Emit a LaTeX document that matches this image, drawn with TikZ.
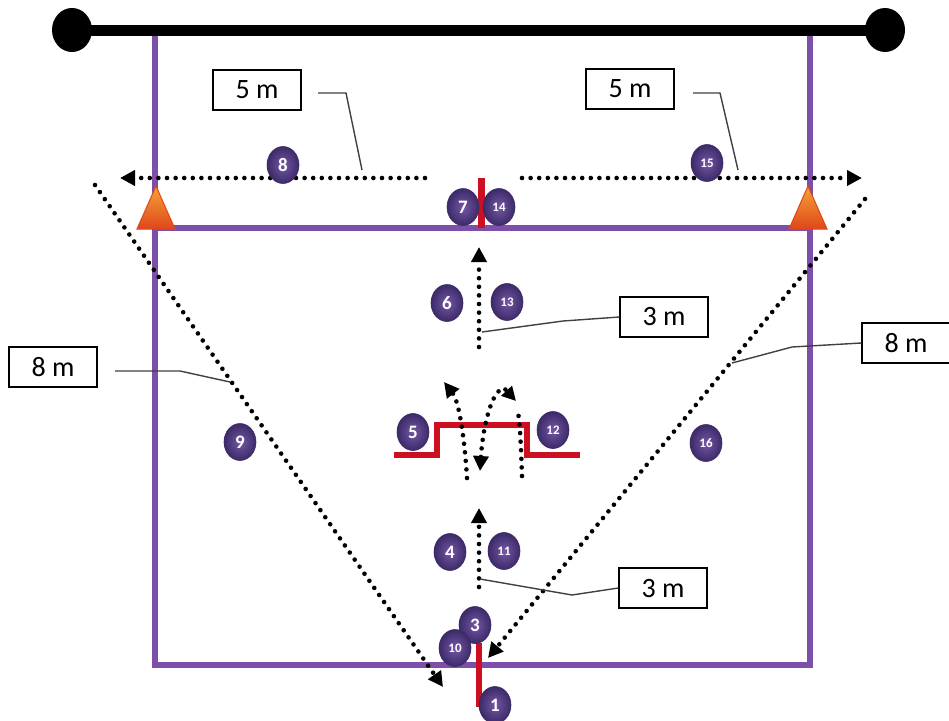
\documentclass[tikz,border=0pt]{standalone}
\usepackage{fontspec}
\setmainfont{Carlito}
\usetikzlibrary{shapes.geometric,arrows.meta}
\definecolor{court}{HTML}{7D4FA8}
\definecolor{postred}{HTML}{CC1022}
\definecolor{ballin}{HTML}{7458A6}
\definecolor{ballout}{HTML}{3C2A68}
\definecolor{conetop}{HTML}{F5A436}
\definecolor{conebot}{HTML}{E0461A}
\definecolor{leader}{HTML}{404040}
\tikzset{
  ball/.style={ellipse, minimum width=32pt, minimum height=37pt, inner sep=0pt,
    inner color=ballin, outer color=ballout, draw=ballout, line width=0.6pt,
    text=white, font=\bfseries\fontsize{19}{19}\selectfont},
  smallball/.style={ball, font=\bfseries\fontsize{13}{13}\selectfont},
  lbl/.style={draw=black, line width=1.4pt, fill=white, minimum width=88pt, minimum height=40pt,
    inner sep=0pt, font=\fontsize{28}{28}\selectfont},
  dots/.style={line width=4.6pt, dash pattern=on 0pt off 8.6pt, line cap=round},
  tip/.style={-{Triangle[length=15pt,width=15pt]}},
  lead/.style={draw=leader, line width=1.4pt},
  courtline/.style={draw=court, line width=6pt},
  redpost/.style={draw=postred, line width=7pt},
}
\begin{document}
\begin{tikzpicture}[x=1pt,y=-1pt]
\useasboundingbox (0,0) rectangle (949,720);
\fill[white] (0,0) rectangle (949,720);
% court
\coordinate (cTL) at (155,30);
\coordinate (cBR) at (810,665);
\draw[courtline] (cTL) rectangle (cBR);
\coordinate (mL) at (155,228);
\coordinate (mR) at (810,228);
\draw[courtline] (mL) -- (mR);
% top bar
\coordinate (barL) at (72,30);
\coordinate (barR) at (885,30);
\draw[line width=11pt] (barL) -- (barR);
\fill (barL) ellipse [x radius=20pt, y radius=22pt];
\fill (barR) ellipse [x radius=20pt, y radius=22pt];
% cones
\shade[top color=conetop, bottom color=conebot, draw=conebot, line width=1pt]
  (137,229) -- (156,186) -- (175,229) -- cycle;
\shade[top color=conetop, bottom color=conebot, draw=conebot, line width=1pt]
  (789,229) -- (808,186) -- (827,229) -- cycle;
% red posts and hurdle
\coordinate (pt1) at (481,178);
\coordinate (pt2) at (481,228);
\draw[redpost] (pt1) -- (pt2);
\coordinate (pb1) at (479,643);
\coordinate (pb2) at (479,707);
\draw[redpost, line width=6pt] (pb1) -- (pb2);
\draw[redpost, line width=6.5pt] (394,455) -- (437,455) -- (437,425) -- (527,425) -- (527,455) -- (580,455);
% dotted movement lines
\coordinate (tl1) at (425,178); \coordinate (tl2) at (120,178);
\coordinate (tr1) at (522,178); \coordinate (tr2) at (862,178);
\draw[dots,tip] (tl1) -- (tl2);
\draw[dots,tip] (tr1) -- (tr2);
\coordinate (dl1) at (95,185); \coordinate (dl2) at (443,687);
\coordinate (dr1) at (865,199); \coordinate (dr2) at (488,658);
\draw[dots,tip] (dl1) -- (dl2);
\draw[dots,tip] (dr1) -- (dr2);
\coordinate (vu1) at (479,347); \coordinate (vu2) at (479,247);
\coordinate (vd1) at (479,587); \coordinate (vd2) at (479,508);
\draw[dots,tip] (vu1) -- (vu2);
\draw[dots,tip] (vd1) -- (vd2);
% curved arrows over the hurdle
\coordinate (ca1) at (467,478); \coordinate (ca2) at (444,382);
\draw[dots,tip] (ca1) .. controls (464,430) and (458,400) .. (ca2);
\coordinate (cb1) at (480,471); \coordinate (cb2) at (516,401);
\draw[dots,{Triangle[length=15pt,width=15pt]}-{Triangle[length=14pt,width=14pt]}]
  (cb1) .. controls (483,425) and (492,390) .. (504,388) -- (cb2);
\coordinate (cc1) at (522,476); \coordinate (cc2) at (518,412);
\draw[dots] (cc1) .. controls (521,445) and (520,425) .. (cc2);
% balls
\node[ball] (b8) at (283,165) {8};
\node[smallball] (b15) at (707,163) {15};
\node[ball] (b7) at (463,207) {7};
\node[smallball] (b14) at (499,207) {14};
\node[ball] (b6) at (447,303) {6};
\node[smallball] (b13) at (507,302) {13};
\node[ball] (b5) at (413,432) {5};
\node[smallball] (b12) at (553,430) {12};
\node[ball] (b9) at (240,442) {9};
\node[smallball] (b16) at (706,443) {16};
\node[ball] (b4) at (450,552) {4};
\node[smallball] (b11) at (504,551) {11};
\node[ball] (b3) at (475,625) {3};
\node[smallball] (b10) at (455,648) {10};
\node[ball] (b1) at (495,705) {1};
% labels
\node[lbl] (l5a) at (257,90) {5 m};
\node[lbl] (l5b) at (630,89) {5 m};
\node[lbl] (l3a) at (664,317) {3 m};
\node[lbl] (l3b) at (663,588) {3 m};
\node[lbl] (l8a) at (53,367) {8 m};
\node[lbl] (l8b) at (906,343) {8 m};
% leaders
\draw[lead] (318,93) -- (346,93) -- (362,170);
\draw[lead] (693,93) -- (720,93) -- (738,170);
\draw[lead] (l3a.west) -- (563,321) -- (482,332);
\draw[lead] (l3b.west) -- (572,595) -- (480,579);
\draw[lead] (115,371) -- (180,371) -- (230,382);
\draw[lead] (l8b.west) -- (792,347) -- (732,363);
\end{tikzpicture}
\end{document}
